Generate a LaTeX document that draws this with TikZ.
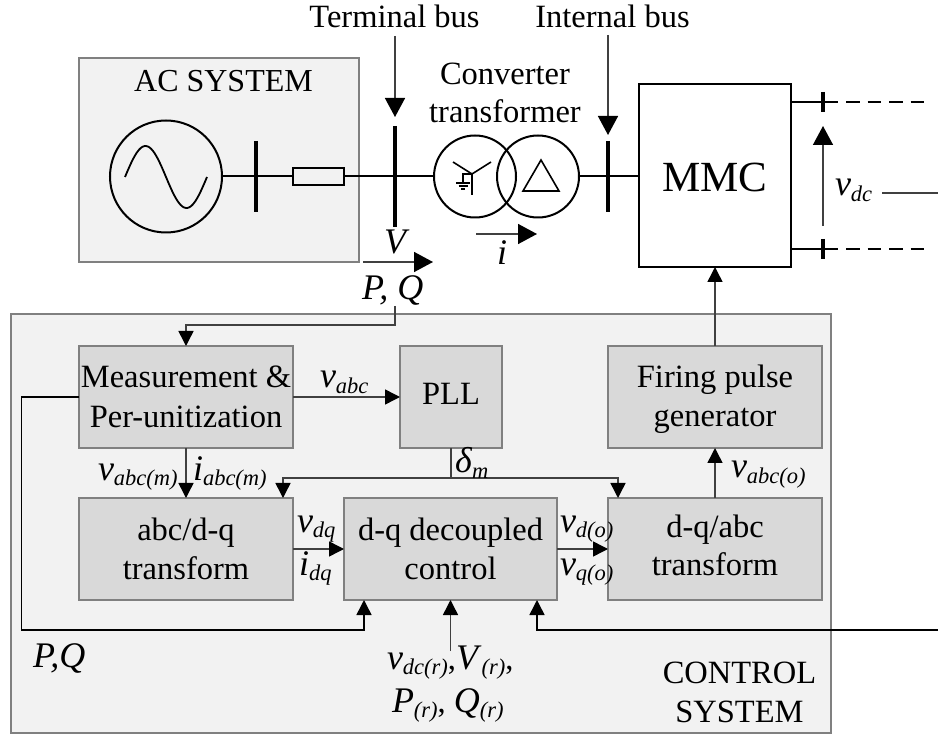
\documentclass[tikz,border=0pt]{standalone}
\usepackage{fontspec}
\setmainfont{Liberation Serif}
\usetikzlibrary{arrows.meta}
\definecolor{lightpanel}{HTML}{F2F2F2}
\definecolor{blockfill}{HTML}{D9D9D9}
\definecolor{edgegray}{HTML}{808080}
\definecolor{signal}{HTML}{404040}
\newcommand{\sz}{\fontsize{32.5}{40}\selectfont}
\newcommand{\itl}[1]{{\fontsize{36}{40}\selectfont\textit{#1}}}
\newcommand{\sbs}[1]{\raisebox{-5.5pt}{\fontsize{22.5}{23}\selectfont\textit{#1}}}
\tikzset{
  x=1pt,y=-1pt,
  panel/.style={draw=edgegray,fill=lightpanel,line width=2pt,inner sep=0pt,outer sep=0pt},
  block/.style={draw=edgegray,fill=blockfill,line width=2pt,inner sep=0pt,outer sep=0pt,
    minimum width=214pt,minimum height=102pt,align=center,font=\sz},
  txt/.style={anchor=base,inner sep=0pt,outer sep=0pt,font=\sz,align=center},
  txtl/.style={anchor=base west,inner sep=0pt,outer sep=0pt,font=\sz},
  power/.style={line width=2pt,black},
  busbar/.style={line width=4pt,black},
  tick/.style={line width=3.5pt,black},
  thinsym/.style={line width=1.6pt,black},
  sig/.style={line width=1.5pt,signal},
  arr/.style={sig,-{Triangle[length=15pt,width=15pt,color=black]}},
  bigarr/.style={sig,-{Triangle[length=19pt,width=20pt,color=black]}},
}
\begin{document}
\begin{tikzpicture}
\useasboundingbox (0,0) rectangle (938,735);
% panels
\node[panel,minimum width=280pt,minimum height=204pt] (acsys) at (219,160) {};
\node[panel,minimum width=820pt,minimum height=419pt] (ctrl) at (421,523.5) {};
% AC side
\node[draw=black,line width=2pt,circle,minimum size=112pt,inner sep=0pt,outer sep=0pt] (gen) at (166,176.5) {};
\draw[line width=1.8pt] plot[domain=0:360,samples=60,smooth] ({125+\x/360*82},{177-31*sin(\x)});
\coordinate (acbusT) at (256,141);
\coordinate (acbusB) at (256,212);
\draw[busbar] (acbusT) -- (acbusB);
\node[draw=black,fill=lightpanel,line width=2pt,minimum width=51pt,minimum height=17pt,inner sep=0pt,outer sep=0pt] (res) at (318.5,176.5) {};
\coordinate (tbT) at (395,126);
\coordinate (tbB) at (395,227);
\draw[busbar] (tbT) -- (tbB);
\node[draw=black,line width=2pt,circle,minimum size=82pt,inner sep=0pt,outer sep=0pt] (wye) at (475,176.5) {};
\node[draw=black,line width=2pt,circle,minimum size=82pt,inner sep=0pt,outer sep=0pt] (delta) at (538,176.5) {};
\coordinate (ibT) at (608,141);
\coordinate (ibB) at (608,212);
\draw[busbar] (ibT) -- (ibB);
\node[draw=black,fill=white,line width=2pt,minimum width=152pt,minimum height=183pt,inner sep=0pt,outer sep=0pt,font=\fontsize{43}{43}\selectfont] (mmc) at (715,175.5) {\rule{0pt}{33pt}MMC};
\draw[power] (gen.east) -- (res.west);
\draw[power] (res.east) -- (wye.west);
\draw[power] (delta.east) -- (mmc.west |- delta.east);
% star and delta symbols
\coordinate (st) at (472,174);
\draw[thinsym] (453,162) -- (st) -- (491,162);
\draw[thinsym] (st) -- (472,195);
\draw[line width=1.1pt] (st) -- (463,174) -- (463,183);
\draw[line width=1.1pt] (456,183) -- (470,183) (458.5,186) -- (467.5,186) (461,189) -- (465,189);
\draw[thinsym,line join=miter] (541,160) -- (559,191) -- (523,191) -- cycle;
% DC terminals
\coordinate (dcA) at (838,102);
\coordinate (dcB) at (838,249);
\coordinate (dcAend) at (924,102);
\coordinate (dcBend) at (924,249);
\draw[power] (mmc.east |- dcA) -- (dcA);
\draw[power] (mmc.east |- dcB) -- (dcB);
\draw[power,dash pattern=on 13.5pt off 8pt] (846,102) -- (dcAend);
\draw[power,dash pattern=on 13.5pt off 8pt] (846,249) -- (dcBend);
\draw[tick] (823,92) -- (823,112);
\draw[tick] (823,239) -- (823,259);
\coordinate (vdcS) at (823,226);
\coordinate (vdcE) at (823,126);
\draw[bigarr] (vdcS) -- (vdcE);
% bus pointers
\node[txt] (termlbl) at (394.5,28) {Terminal bus};
\node[txt] (intlbl) at (612.5,28) {Internal bus};
\coordinate (tbA) at (395,36);
\coordinate (tbE) at (395,117);
\draw[bigarr] (tbA) -- (tbE);
\coordinate (ibA) at (608,35);
\coordinate (ibE) at (608,135);
\draw[bigarr] (ibA) -- (ibE);
\node[txt] (conv1) at (505,85) {Converter};
\node[txt] (conv2) at (505,123) {transformer};
\node[txt,font=\fontsize{32}{40}\selectfont] (aclbl) at (223.5,92) {AC SYSTEM};
% measurement arrows on the line
\coordinate (vpA) at (363,262);
\coordinate (vpB) at (433,262);
\draw[bigarr] (vpA) -- (vpB);
\coordinate (iA) at (476,234);
\coordinate (iB) at (537,234);
\draw[bigarr] (iA) -- (iB);
\node[txtl] (vlbl) at (384,254) {\itl{V}};
\node[txtl] (pqlbl) at (362,300) {\itl{P, Q}};
\node[txtl] (ilbl) at (497,265) {\itl{i}};
\node[txtl] (vdclbl) at (835,196) {\itl{v}\sbs{dc}};
\coordinate (vdcline) at (882,193);
\coordinate (vdcedge) at (938,193);
\draw[sig] (vdcline) -- (vdcedge);
% control blocks
\node[block] (meas) at (186,397) {Measurement \&\\Per-unitization};
\node[block,minimum width=102pt] (pll) at (451,397) {\rule[-5.5pt]{0pt}{5.5pt}PLL};
\node[block] (fire) at (715,397) {\rule{0pt}{28pt}Firing pulse\\[-1pt]generator};
\node[block] (abc) at (186,549) {abc/d-q\\[-1pt]\rule[-1pt]{0pt}{1pt}transform};
\node[block,minimum width=213pt] (dq) at (450.5,549) {d-q decoupled\\[-1pt]\rule[-1pt]{0pt}{1pt}control};
\node[block] (inv) at (715,549) {d-q/abc\\[-2pt]\rule[-8.5pt]{0pt}{8.5pt}transform};
% control connectors
\coordinate (pqS) at (395,306);
\coordinate (pqC) at (395,325);
\draw[arr] (pqS) -- (pqC) -| (meas.north);
\draw[arr] (meas.east) -- (pll.west);
\draw[arr] (meas.south) -- (abc.north);
\coordinate (delJ) at (451,478);
\coordinate (abcIn) at (283,498);
\coordinate (invIn) at (618,498);
\draw[sig] (pll.south) -- (delJ);
\draw[arr] (delJ) -| (abcIn);
\draw[arr] (delJ) -| (invIn);
\draw[arr] (abc.east) -- (dq.west);
\draw[arr] (dq.east) -- (inv.west);
\draw[arr] (inv.north) -- (fire.south);
\draw[arr] (fire.north) -- (mmc.south);
\coordinate (dqInL) at (364,600);
\coordinate (dqInR) at (537,600);
\coordinate (refS) at (450.5,651);
\coordinate (leftX) at (21.5,397);
\coordinate (leftY) at (21.5,630);
\coordinate (edgeR) at (938,630);
\draw[arr,black] (meas.west) -- (leftX) -- (leftY) -| (dqInL);
\draw[arr] (refS) -- (dq.south);
\draw[arr,black] (edgeR) -| (dqInR);
% control labels
\node[txtl] (l1) at (320,388) {\itl{v}\sbs{abc}};
\node[txtl] (l2) at (98,480) {\itl{v}\sbs{abc(m)}};
\node[txtl] (l3) at (193,480) {\itl{i}\sbs{abc(m)}};
\node[txtl] (l4) at (455,473) {\itl{δ}\sbs{m}};
\node[txtl] (l5) at (731,478) {\itl{v}\sbs{abc(o)}};
\node[txtl] (l6) at (297,532) {\itl{v}\sbs{dq}};
\node[txtl] (l7) at (299,575) {\itl{i}\sbs{dq}};
\node[txtl] (l8) at (560,532) {\itl{v}\sbs{d(o)}};
\node[txtl] (l9) at (560,575) {\itl{v}\sbs{q(o)}};
\node[txtl] (l10) at (33,667) {\itl{P,Q}};
\node[txtl] (l11) at (387,669) {\itl{v}\sbs{dc(r)},\itl{V}\sbs{(r)},};
\node[txtl] (l12) at (392,712) {\itl{P}\sbs{(r)}, \itl{Q}\sbs{(r)}};
\node[txt] (l13) at (739.5,683) {CONTROL};
\node[txt] (l14) at (739.5,722) {SYSTEM};
\end{tikzpicture}
\end{document}
